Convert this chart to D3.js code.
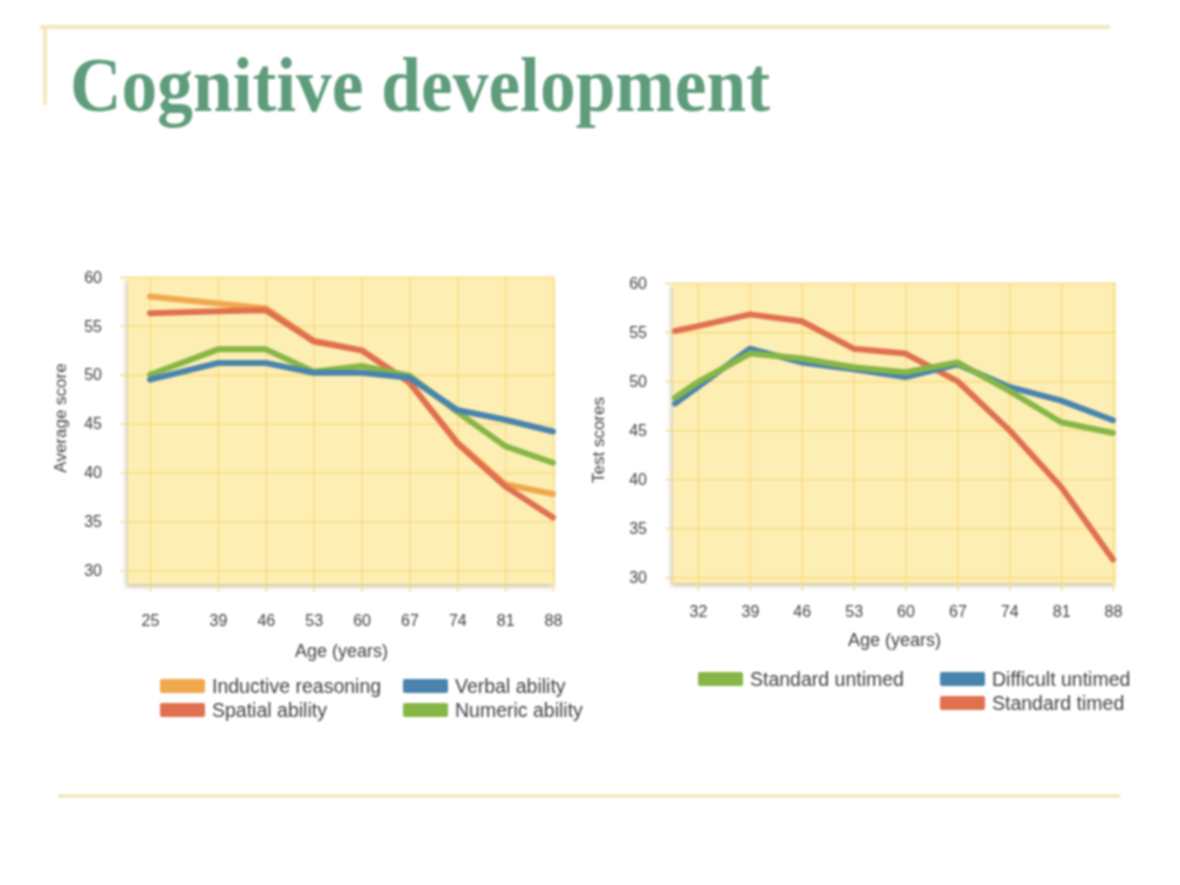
<!DOCTYPE html>
<html>
<head>
<meta charset="utf-8">
<script src="https://cdn.jsdelivr.net/npm/d3@7"></script>
<style>
body { margin:0; background:#fff; }
svg { display:block; filter: blur(1.2px); }
</style>
</head>
<body>
<svg id="svg__container" width="1180" height="885"></svg>
<script>
// left chart: ages and average scores
const leftAges=[25,39,46,53,60,67,74,81,88];
const inductiveReasoning=[58.0,57.3,56.8,53.5,52.5,49.2,43.1,38.8,37.8];
const spatialAbility=[56.3,56.5,56.6,53.4,52.5,49.2,43.0,38.6,35.4];
const verbalAbility=[49.5,51.2,51.2,50.2,50.2,49.7,46.4,45.4,44.2];
const numericAbility=[50.0,52.6,52.6,50.3,50.9,49.9,46.2,42.7,41.0];

// right chart: ages and test scores
const rightAges=[25,32,39,46,53,60,67,74,81,88];
const rightTickAges=[32,39,46,53,60,67,74,81,88];
const standardUntimed=[48.3,49.9,52.8,52.3,51.4,50.9,51.9,49.0,45.8,44.7];
const difficultUntimed=[47.7,49.4,53.3,51.9,51.2,50.4,51.7,49.4,48.0,46.0];
const standardTimed=[55.1,55.6,56.8,56.1,53.3,52.8,50.0,45.0,39.2,31.8];

const scoreTicks=[30,35,40,45,50,55,60];

const colors={ orange:"#f0a84c", red:"#e0704f", blue:"#4a84ae", green:"#86b646" };
const labelFont="Liberation Sans, Arial, sans-serif";

const svgTag=d3.select("#svg__container");

// shadow under the plot boxes
const defs=svgTag.append("defs");
defs.append("filter").attr("id","plotShadow")
    .attr("x","-5%").attr("y","-5%").attr("width","110%").attr("height","112%")
  .append("feDropShadow")
    .attr("dx",-2).attr("dy",3).attr("stdDeviation",2)
    .attr("flood-color","#a89660").attr("flood-opacity",0.55);

// slide frame
svgTag.append("line")
    .attr("x1",40).attr("x2",1110).attr("y1",27).attr("y2",27)
    .attr("stroke","#f3e9bd").attr("stroke-width",4);
svgTag.append("line")
    .attr("x1",45).attr("x2",45).attr("y1",27).attr("y2",105)
    .attr("stroke","#f3e9bd").attr("stroke-width",4);
svgTag.append("line")
    .attr("x1",58).attr("x2",1120).attr("y1",796).attr("y2",796)
    .attr("stroke","#efe3ad").attr("stroke-width",3);

svgTag.append("text")
    .attr("x",70).attr("y",111)
    .attr("font-family","Liberation Serif, DejaVu Serif, serif")
    .attr("font-weight","bold").attr("font-size",79)
    .attr("textLength",700).attr("lengthAdjust","spacingAndGlyphs")
    .attr("fill","#5e9c7b")
    .text("Cognitive development");

/**
 * drawChart : 노란 격자 배경 위에 선 그래프를 그린다.
 * box 는 plot 영역, xDomain/xRange 는 첫 구간을 눌러주는 polylinear 스케일.
 */
function drawChart(opt) {
    const { box, ages, xDomain, xRange, xTicks, yDomain, series, yTitle, xLabelPad }=opt;
    const right=box.x+box.w;
    const bottom=box.y+box.h;

    const x=d3.scaleLinear().domain(xDomain).range(xRange);
    const y=d3.scaleLinear().domain(yDomain).range([bottom, box.y]);

    const g=svgTag.append("g");

    g.append("rect")
        .attr("x",box.x).attr("y",box.y).attr("width",box.w).attr("height",box.h)
        .attr("fill","#fdeeb3")
        .attr("filter","url(#plotShadow)");

    // horizontal grid + y labels
    const yAxis=g.append("g")
        .attr("transform",`translate(${box.x-8},0)`)
        .call(d3.axisLeft(y).tickValues(scoreTicks).tickSize(-(box.w+8)).tickPadding(18));
    // vertical grid + x labels
    const xAxis=g.append("g")
        .attr("transform",`translate(0,${bottom+8})`)
        .call(d3.axisBottom(x).tickValues(xTicks).tickSize(-(box.h+8)).tickPadding(xLabelPad));

    [yAxis, xAxis].forEach(a=>{
        a.select(".domain").remove();
        a.selectAll(".tick line").attr("stroke","#f8da7e").attr("stroke-width",1.3);
        a.selectAll(".tick text")
            .attr("font-family",labelFont)
            .attr("font-size",16).attr("fill","#3e3e3e");
    });

    g.append("text")
        .attr("x",(box.x+right)/2).attr("y",opt.xTitleY)
        .attr("text-anchor","middle")
        .attr("font-family",labelFont)
        .attr("font-size",18).attr("fill","#3e3e3e")
        .text("Age (years)");

    g.append("text")
        .attr("transform",`translate(${opt.yTitleX},${opt.yTitleY}) rotate(-90)`)
        .attr("text-anchor","middle")
        .attr("font-family",labelFont)
        .attr("font-size",17).attr("fill","#3e3e3e")
        .text(yTitle);

    const line=d3.line()
        .x((d,i)=>x(ages[i]))
        .y(d=>y(d));

    series.forEach(s=>{
        g.append("path")
            .datum(s.values)
            .attr("d",line)
            .attr("fill","none")
            .attr("stroke",s.color)
            .attr("stroke-width",6)
            .attr("stroke-linejoin","round")
            .attr("stroke-linecap","round");
    });
}

drawChart({
    box:{ x:128, y:277, w:427, h:307 },
    ages:leftAges,
    xDomain:[25,39,88], xRange:[150,218,553],
    xTicks:leftAges,
    yDomain:[28.6,60],
    xLabelPad:23, xTitleY:657,
    yTitle:"Average score", yTitleX:66, yTitleY:418,
    series:[
        { values:inductiveReasoning, color:colors.orange },
        { values:spatialAbility, color:colors.red },
        { values:numericAbility, color:colors.green },
        { values:verbalAbility, color:colors.blue }
    ]
});

drawChart({
    box:{ x:673, y:283, w:443, h:300 },
    ages:rightAges,
    xDomain:[25,32,88], xRange:[675,698,1113],
    xTicks:rightTickAges,
    yDomain:[29.4,60],
    xLabelPad:15, xTitleY:646,
    yTitle:"Test scores", yTitleX:604, yTitleY:440,
    series:[
        { values:standardTimed, color:colors.red },
        { values:difficultUntimed, color:colors.blue },
        { values:standardUntimed, color:colors.green }
    ]
});

// legends
const leftLegend=[
    { name:"Inductive reasoning", color:colors.orange, col:0, row:0 },
    { name:"Verbal ability", color:colors.blue, col:1, row:0 },
    { name:"Spatial ability", color:colors.red, col:0, row:1 },
    { name:"Numeric ability", color:colors.green, col:1, row:1 }
];
const rightLegend=[
    { name:"Standard untimed", color:colors.green, col:0, row:0 },
    { name:"Difficult untimed", color:colors.blue, col:1, row:0 },
    { name:"Standard timed", color:colors.red, col:1, row:1 }
];

function drawLegend(items, x0, colGap, y0) {
    const lg=svgTag.append("g").attr("transform",`translate(${x0},${y0})`);
    items.forEach(({ name, color, col, row })=>{
        const item=lg.append("g").attr("transform",`translate(${col*colGap},${row*24})`);
        item.append("rect")
            .attr("x",0).attr("y",-7).attr("width",45).attr("height",14)
            .attr("rx",2).attr("fill",color);
        item.append("text")
            .attr("x",52).attr("y",0).attr("dy","0.35em")
            .attr("font-family",labelFont)
            .attr("font-size",19.5).attr("fill","#3e3e3e")
            .text(name);
    });
}
drawLegend(leftLegend, 160, 243, 686);
drawLegend(rightLegend, 698, 242, 679);
</script>
</body>
</html>
